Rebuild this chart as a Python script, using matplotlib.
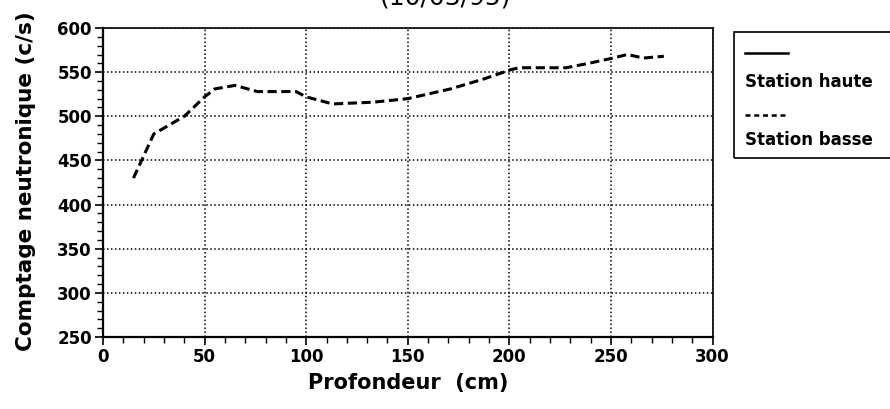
import numpy as np
import matplotlib.pyplot as plt
from matplotlib.lines import Line2D
from matplotlib.patches import Rectangle
from matplotlib.ticker import MultipleLocator

plt.rcParams['font.family'] = ['DejaVu Sans']

# station basse profile (depth in cm, neutron count in c/s)
depth_basse = [15, 25, 40, 50, 55, 65, 76, 95, 100, 113, 133, 150, 171, 187, 201, 205, 228, 241, 251, 258, 266, 276]
count_basse = [430, 480, 500, 522, 531, 535, 528, 528, 522, 514, 516, 520, 531, 542, 553, 555, 555, 561, 566, 570, 566, 568]
series_names = ['Station haute', 'Station basse']
title_text = '(10/03/95)'

fig = plt.figure(figsize=(8.9, 4.09), dpi=100)
ax = fig.add_axes([0.1157, 0.176, 0.685, 0.7555])

ax.plot(depth_basse, count_basse, color='black', lw=2.2, ls=(0, (3, 1.5)))

ax.set_xlim(0, 300)
ax.set_ylim(250, 600)
ax.xaxis.set_major_locator(MultipleLocator(50))
ax.yaxis.set_major_locator(MultipleLocator(50))
ax.xaxis.set_minor_locator(MultipleLocator(10))
ax.yaxis.set_minor_locator(MultipleLocator(10))
ax.tick_params(which='major', direction='out', length=6, width=1.2, labelsize=12, pad=2)
ax.tick_params(which='minor', direction='out', length=4, width=1.0)
for lab in ax.get_xticklabels() + ax.get_yticklabels():
    lab.set_fontweight('bold')
ax.grid(True, which='major', color='black', ls=(0, (1, 1.6)), lw=1.1)
ax.spines['left'].set_linewidth(1.6)
ax.spines['bottom'].set_linewidth(1.6)
ax.spines['top'].set_linewidth(1.2)
ax.spines['right'].set_linewidth(1.2)

ax.set_xlabel('Profondeur  (cm)', fontsize=15, fontweight='bold', labelpad=5)
ax.set_ylabel('Comptage neutronique (c/s)', fontsize=15.5, fontweight='bold', labelpad=2)
ax.yaxis.set_label_coords(-0.11, 0.505)

# title, cut by the top edge as in the scan
fig.text(446 / 890, 1.0 - 5 / 409, title_text, fontsize=18, ha='center', va='baseline')

# legend drawn by hand: sample line above each label
fig.patches.append(Rectangle((734 / 890, 1 - 158 / 409), 0.2, 126 / 409,
                             transform=fig.transFigure, fill=False, ec='black', lw=1.2))
styles = ['-', (0, (2, 1.5))]
line_y = [53, 115]
text_y = [82, 140]
for name, st, ly, ty in zip(series_names, styles, line_y, text_y):
    fig.lines.append(Line2D([745 / 890, 788 / 890], [1 - ly / 409, 1 - ly / 409],
                            transform=fig.transFigure, color='black', lw=1.8, ls=st))
    fig.text(745 / 890, 1 - ty / 409, name, fontsize=12, fontweight='bold', va='center')

fig.savefig('out.png', dpi=100)
